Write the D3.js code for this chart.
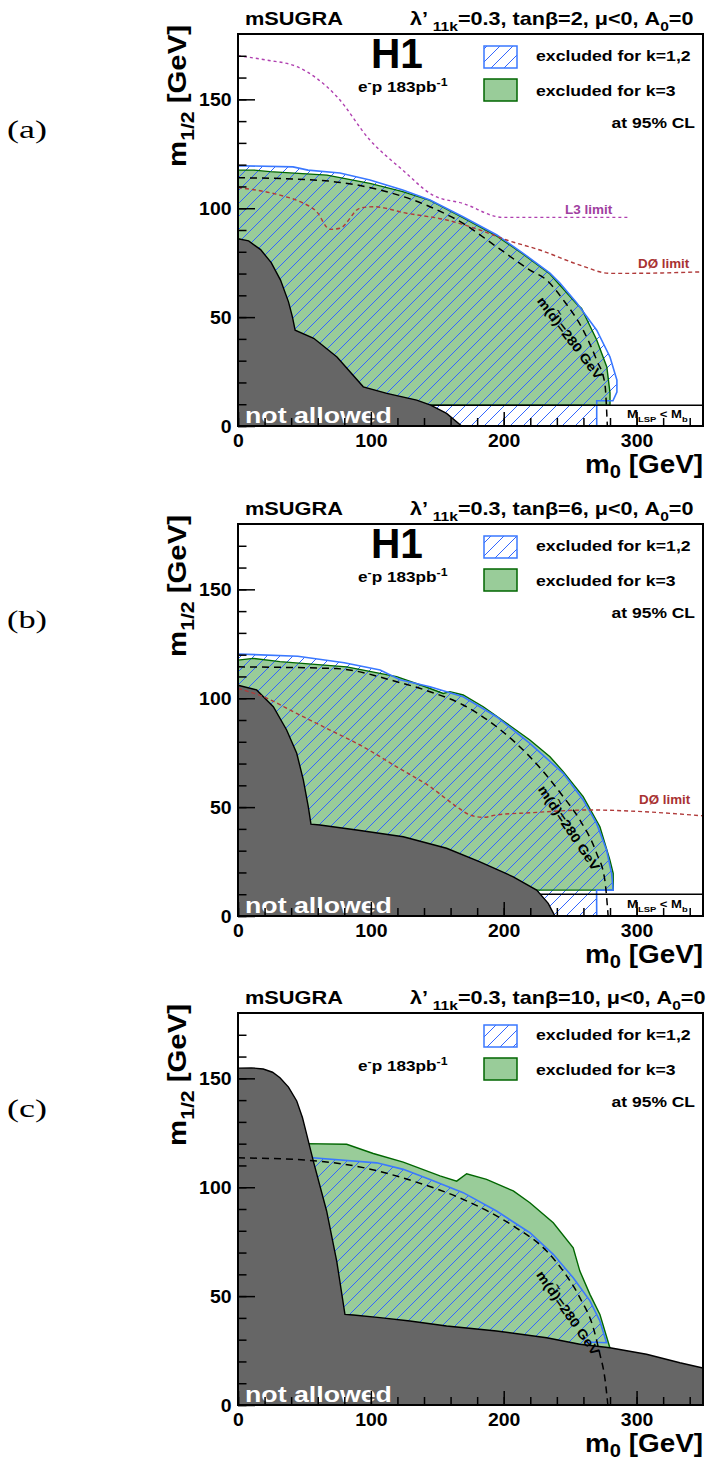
<!DOCTYPE html>
<html><head><meta charset="utf-8">
<script src="https://cdn.jsdelivr.net/npm/d3@7"></script>
<style>
body{margin:0;background:#fff}
svg text{font-family:"Liberation Sans",Arial,Helvetica,sans-serif;font-weight:bold}
</style>
</head><body>
<svg id="chart" width="711" height="1463"></svg>
<script>
// ---------------- data (m0 [GeV], m1/2 [GeV]) ----------------
const panelLetters = ["(a)", "(b)", "(c)"];
const tanBeta = ["2", "6", "10"];
const showH1 = [true, true, false];

const majorX = [0, 100, 200, 300];
const majorXLabels = ["0", "100", "200", "300"];
const minorX = [0,20,40,60,80,100,120,140,160,180,200,220,240,260,280,300,320,340];
const majorY = [0, 50, 100, 150];
const majorYLabels = ["0", "50", "100", "150"];
const minorY = [0,10,20,30,40,50,60,70,80,90,100,110,120,130,140,150,160,170];

// panel (a) tanb=2
const grayA = [[0,86],[8,85],[17,81],[25,75],[32,67],[38,57],[41,50],[43,44],[57,40.3],[74.5,31.7],[94.3,18],[112,15],[134.5,11.9],[145,9.6],[157,5.8],[168.3,0],[0,0]];
const blueA = [[0,119.5],[41.4,119],[52.7,117.5],[76.7,116.2],[99.3,113],[124,108.4],[144.5,103.8],[169.3,96.1],[194.9,87.7],[214.4,79.4],[234.8,70.2],[242.3,65.7],[255,56.5],[270,44],[280,31.7],[285.2,21.1],[285.2,15.6],[282.2,11.6],[270,11.6],[270,0],[0,0]];
const greenA = [[0,117.5],[12,117.5],[24,116.8],[67,115.2],[99.3,111.4],[124,107.6],[144.5,103.6],[169.3,95.7],[194.9,87.2],[214.4,79],[234.8,69.8],[255,56],[258.6,54],[270,39.5],[277.6,27.1],[280,15.2],[280,9.5],[0,9.5]];
const massA = [[0,114],[56.7,113],[106.8,108.4],[144.5,100.7],[169.5,93],[194.6,82.3],[219.7,71.6],[232.3,67],[244.8,57.9],[259.8,44],[269.9,30.3],[276.1,19.6],[278,0]];
const l3A = [[0,170],[21.8,168],[44.4,165],[74.5,151.2],[99.3,131.3],[124,117.5],[146.7,106],[169.3,102.2],[199.4,95.8],[295,95.8]];
const d0A = [[0,109.5],[31.6,106],[46.7,103],[59.2,98.4],[69.2,90.3],[76.7,90.8],[91.8,100],[101.8,100.7],[126.9,97.7],[157,94.6],[182.1,90],[202.2,85.4],[227.2,80.8],[257.3,73.9],[279.9,70.1],[295,70.1],[350,70.8]];

// panel (b) tanb=6
const grayB = [[0,106],[14,103.8],[26.6,96.1],[36.6,85.4],[44.2,74.7],[49.2,62.4],[52.9,50.2],[54.9,42.2],[61.7,41.8],[89.3,39.5],[124.4,36.4],[157,31.1],[182.1,24.9],[207.2,18],[224.8,11.9],[233.5,5.8],[238.5,0],[0,0]];
const blueB = [[0,120.3],[45,119.3],[80,116.3],[107,113],[122,108.5],[144.5,105.3],[169.5,100.7],[194.6,91.5],[219.7,79.3],[244.8,65.5],[259.8,53.3],[269.9,42.5],[277.4,30.3],[281.2,19.6],[282.4,11.9],[269.9,11.9],[270,0],[0,0]];
const greenB = [[0,117.5],[11.5,118.3],[31.6,116.8],[81.8,114.4],[119.4,109.9],[140,105.5],[154.5,102.2],[159.5,103],[169.5,101.5],[184.6,96.1],[202.2,88.5],[219.7,80.8],[234.8,73.1],[244.8,66.3],[259.8,54.8],[272.4,41],[279.9,25.7],[282.4,19.6],[282.4,11.9],[0,11.9]];
const massB = [[0,114.4],[74,113.6],[119.4,107.6],[144.5,103],[169.5,96.9],[194.6,86.9],[219.7,73.1],[244.8,54.8],[257.3,44.1],[269.9,28.8],[276.1,16.5],[278.6,0]];
const d0B = [[0,104.5],[19,100.7],[44.2,93],[69.2,85.4],[94.3,77.7],[119.4,68.5],[144.5,59.4],[164.6,50.2],[174.6,46.4],[184.6,45.3],[194.6,46.4],[219.7,47.4],[264.9,48.7],[295,48.2],[350,46]];

// panel (c) tanb=10
const grayC = [[0,154.7],[10,154.8],[19,154.3],[26,152.8],[31.6,150.3],[38,146],[44.2,139.6],[48.5,132],[51.7,124.3],[56.7,112],[66.7,89.1],[74.3,66.1],[80.5,41.6],[86.8,41.3],[106.8,40.1],[129.4,38.6],[157,36.3],[194.6,34],[232.3,30.9],[257.3,27.9],[279.9,26.3],[307.5,23.3],[332.6,19.4],[350,17],[350,0],[0,0]];
const blueC = [[50,113.5],[56,113.5],[104.4,111.2],[124.4,108.2],[144.5,103.6],[169.5,97.5],[194.6,89.1],[219.7,79.1],[237.3,69.2],[252.3,58.4],[264.9,47.8],[272.4,38.6],[277.4,28.6],[262,28.9],[250,0],[50,0]];
const greenC = [[50,120],[81.8,119.7],[101.8,115.5],[124.4,111.5],[152,105.2],[164.6,102.8],[172.1,106.2],[187.1,103.6],[207.2,98.3],[219.7,92.9],[237.3,83.7],[252.3,72.2],[257.3,61.5],[264.9,50.8],[272.4,41.6],[279.9,26.3],[280,0],[50,0]];
const massC = [[0,113.5],[50,112.5],[94.3,109],[131.9,102.8],[169.5,94.4],[207.2,82.2],[232.3,70.7],[244.8,61.5],[257.3,49.3],[267.4,35.5],[272.4,23.3],[276.1,12.5],[278.4,0]];

const stripLevel = [9.5, 10, null];

// ---------------- layout ----------------
const X0 = 238, X1 = 703, PH = 392;
const panelTops = [34, 524, 1013];
const S = 1.18;

const svg = d3.select("#chart");
const defs = svg.append("defs");
const hatch = defs.append("pattern").attr("id","hatch").attr("patternUnits","userSpaceOnUse")
  .attr("width",13).attr("height",13);
hatch.append("path").attr("d","M0,13L13,0M-3,3L3,-3M10,16L16,10")
  .attr("stroke","#3366ff").attr("stroke-width",1).attr("fill","none");

const x = d3.scaleLinear().domain([0,350]).range([X0, X1]);

function addText(g, px, py, parts, o) {
  o = Object.assign({size:14, anchor:"start", fill:"#000", rotate:0, width:null, sx:S, dy:0,
    family:null, weight:null, subShift:0.32}, o||{});
  const t = g.append("text").attr("font-size", o.size).attr("text-anchor", o.anchor)
    .attr("fill", o.fill).attr("y", o.dy);
  if (o.family) t.style("font-family", o.family);
  if (o.weight) t.style("font-weight", o.weight);
  let off = 0;
  parts.forEach(p => {
    const ts = t.append("tspan");
    if (typeof p === "string") {
      ts.text(p).attr("dy", -off); off = 0;
    } else {
      const s = o.size * 0.72;
      const target = p.sub ? o.size*o.subShift : -o.size*0.42;
      ts.text(p.t).attr("font-size", s).attr("dy", target - off); off = target;
    }
  });
  let sx = o.sx;
  if (o.width) { const w = t.node().getBBox().width; if (w > 0) sx = o.width / w; }
  t.attr("transform", `translate(${px},${py}) rotate(${o.rotate}) scale(${sx},1)`);
  return t;
}

// "m(d~)=280 GeV" with a tilde placed over the d
function massLabel(g, px, py, rot) {
  const size = 13;
  const t = g.append("text").attr("font-size", size).attr("text-anchor","middle").attr("y", 4.5);
  t.append("tspan").text("m(d");
  t.append("tspan").text("~").attr("font-size", 10).attr("dx", -6.9).attr("dy", -8);
  t.append("tspan").text(")=280 GeV").attr("dx", 1.1).attr("dy", 8);
  const w = t.node().getBBox().width;
  t.attr("transform", `translate(${px},${py}) rotate(${rot}) scale(${100/w},1)`);
}

const panels = [
  {gray:grayA, blue:blueA, green:greenA, mass:massA, l3:l3A, d0:d0A},
  {gray:grayB, blue:blueB, green:greenB, mass:massB, l3:null, d0:d0B},
  {gray:grayC, blue:blueC, green:greenC, mass:massC, l3:null, d0:null}
];
const massLabelPos = [[570,304,53],[569,304,56],[568,300,55]];
const d0LabelPos = [[638,234],[639,280],null];

panels.forEach((cfg, i) => {
  const top = panelTops[i], bottom = top + PH;
  const y = d3.scaleLinear().domain([0,180]).range([bottom, top]);
  const g = svg.append("g");
  defs.append("clipPath").attr("id","clip"+i).append("rect")
    .attr("x",X0).attr("y",top).attr("width",X1-X0).attr("height",PH);
  const pg = g.append("g").attr("clip-path",`url(#clip${i})`);
  const line = d3.line().x(d=>x(d[0])).y(d=>y(d[1]));
  const smooth = d3.line().x(d=>x(d[0])).y(d=>y(d[1])).curve(d3.curveMonotoneX);

  pg.append("path").attr("d", line(cfg.green)+"Z").attr("fill","#99cc99");
  pg.append("path").attr("d", line(cfg.blue)+"Z").attr("fill","url(#hatch)");
  pg.append("path").attr("d", line(cfg.green)+"Z").attr("fill","none").attr("stroke","#006600").attr("stroke-width",1.4);
  pg.append("path").attr("d", line(cfg.blue)+"Z").attr("fill","none").attr("stroke","#3a78ff").attr("stroke-width",1.6);
  if (stripLevel[i] != null) {
    pg.append("line").attr("x1",X0).attr("x2",X1).attr("y1",y(stripLevel[i])).attr("y2",y(stripLevel[i]))
      .attr("stroke","#000").attr("stroke-width",1.4);
  }
  pg.append("path").attr("d", line(cfg.gray)+"Z").attr("fill","#666666").attr("stroke","#000").attr("stroke-width",1.4);
  if (cfg.l3) pg.append("path").attr("d", smooth(cfg.l3)).attr("fill","none")
    .attr("stroke","#b040b0").attr("stroke-width",1.4).attr("stroke-dasharray","3,3");
  if (cfg.d0) pg.append("path").attr("d", smooth(cfg.d0)).attr("fill","none")
    .attr("stroke","#b03a3a").attr("stroke-width",1.4).attr("stroke-dasharray","4,3");
  pg.append("path").attr("d", smooth(cfg.mass)).attr("fill","none")
    .attr("stroke","#000").attr("stroke-width",1.5).attr("stroke-dasharray","7,5");

  // in-plot labels
  addText(g, 245, bottom-3, ["not allowed"], {size:22, fill:"#fff", width:147});
  if (stripLevel[i] != null) {
    addText(g, 627, bottom-8, ["M", {t:"LSP", sub:true}, " < M", {t:"b", sub:true}], {size:11, width:61});
  }
  if (cfg.l3) addText(g, 565, top+180, ["L3 limit"], {size:13, fill:"#a040a0", width:48});
  if (d0LabelPos[i]) addText(g, d0LabelPos[i][0], top+d0LabelPos[i][1], ["DØ limit"], {size:13, fill:"#a83232", width:52});
  const mp = massLabelPos[i];
  massLabel(g, mp[0], top+mp[1], mp[2]);

  // axes
  const axMinX = g.append("g").attr("transform",`translate(0,${bottom})`)
    .call(d3.axisBottom(x).tickValues(minorX).tickSize(-8).tickFormat(""));
  const axMajX = g.append("g").attr("transform",`translate(0,${bottom})`)
    .call(d3.axisBottom(x).tickValues(majorX).tickSize(-14).tickFormat((d,k)=>majorXLabels[k]));
  const axMinY = g.append("g").attr("transform",`translate(${X0},0)`)
    .call(d3.axisLeft(y).tickValues(minorY).tickSize(-8.5).tickFormat(""));
  const axMajY = g.append("g").attr("transform",`translate(${X0},0)`)
    .call(d3.axisLeft(y).tickValues(majorY).tickSize(-17).tickPadding(6).tickFormat((d,k)=>majorYLabels[k]));
  [axMinX, axMajX, axMinY, axMajY].forEach(a => {
    a.select(".domain").remove();
    a.selectAll("line").attr("stroke","#000").attr("stroke-width",1.5);
    a.attr("font-size",18).attr("font-family",null);
  });
  axMajX.selectAll("text").attr("y",21).attr("dy",0).attr("transform","scale(1.08,1)");
  axMajY.selectAll("text").attr("x",-6).attr("dy","0.36em").attr("transform","scale(1.08,1)");

  g.append("rect").attr("x",X0).attr("y",top).attr("width",X1-X0).attr("height",PH)
    .attr("fill","none").attr("stroke","#000").attr("stroke-width",2);

  // titles
  addText(g, 245, top-9, ["mSUGRA"], {size:18, width:98});
  addText(g, 410, top-9, ["λ’ ", {t:"11k", sub:true}, "=0.3, tanβ="+tanBeta[i]+", μ<0, A", {t:"0", sub:true}, "=0"],
    {size:18, sx:1.2});
  if (showH1[i]) addText(g, 397, top+34, ["H1"], {size:42, anchor:"middle", width:52});
  addText(g, 358, top+58, ["e", {t:"-", sup:true}, "p 183pb", {t:"-1", sup:true}], {size:14, width:90});

  // legend
  g.append("rect").attr("x",484).attr("y",top+12).attr("width",33).attr("height",22)
    .attr("fill","#fff").attr("stroke","none");
  g.append("rect").attr("x",484).attr("y",top+12).attr("width",33).attr("height",22)
    .attr("fill","url(#hatch)").attr("stroke","#3a78ff").attr("stroke-width",1.5);
  g.append("rect").attr("x",484).attr("y",top+45).attr("width",33).attr("height",22)
    .attr("fill","#99cc99").attr("stroke","#006600").attr("stroke-width",1.5);
  addText(g, 536, top+27, ["excluded for k=1,2"], {size:14, width:155});
  addText(g, 536, top+62, ["excluded for k=3"], {size:14, width:140});
  addText(g, 695, top+94, ["at 95% CL"], {size:14, anchor:"end", width:84});

  // axis titles
  addText(g, 703, bottom+47, ["m", {t:"0", sub:true}, " [GeV]"], {size:25, anchor:"end", width:118, subShift:0.2});
  addText(g, 186, top-9, ["m", {t:"1/2", sub:true}, " [GeV]"], {size:25, anchor:"end", rotate:-90, width:142});

  // panel letter
  addText(g, 7, top+104, [panelLetters[i]], {size:25, width:40, family:"'Liberation Serif','DejaVu Serif',serif", weight:"normal"});
});
</script>
</body></html>
